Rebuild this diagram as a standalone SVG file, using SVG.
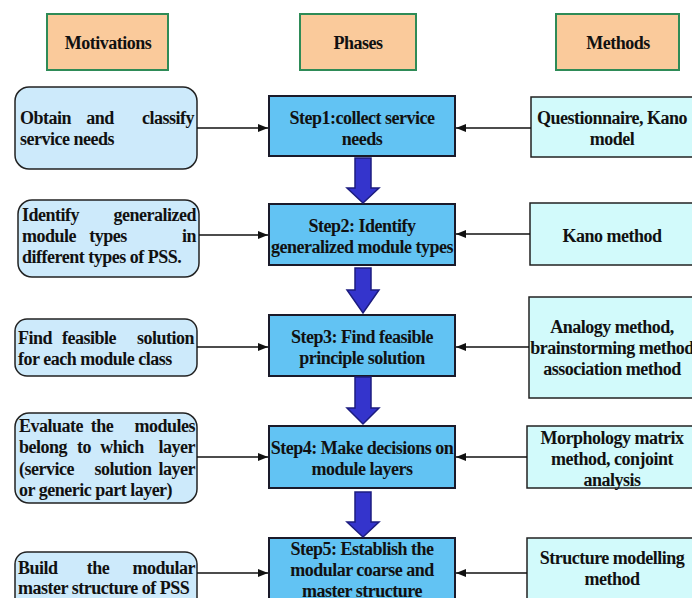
<svg xmlns="http://www.w3.org/2000/svg" width="692" height="598" viewBox="0 0 692 598">
<defs>
<style>
text{font-family:"Liberation Serif","Times New Roman",serif;font-weight:bold;font-size:18px;fill:#111;letter-spacing:-0.5px}
.c{text-anchor:middle}
.e{text-anchor:end}
.hdr{fill:#FACA9B;stroke:#2E8B57;stroke-width:2}
.mot{fill:#CDEAFB;stroke:#222;stroke-width:1.5}
.step{fill:#62C3F3;stroke:#1a1a2a;stroke-width:2}
.meth{fill:#D2FAFB;stroke:#222;stroke-width:1.5}
.ln{stroke:#111;stroke-width:1.5;fill:none}
.big{fill:#3434CC;stroke:#1C1C80;stroke-width:1.5}
</style>
<marker id="ah" markerWidth="10" markerHeight="8" refX="10" refY="4" orient="auto" markerUnits="userSpaceOnUse">
<path d="M0,0 L10,4 L0,8 Z" fill="#111"/>
</marker>
</defs>
<rect width="692" height="598" fill="#fff"/>

<g id="hdr-motivations"><rect class="hdr" x="47" y="14" width="121" height="56"/><text class="c" x="108" y="49">Motivations</text></g>
<g id="hdr-phases"><rect class="hdr" x="300" y="14" width="116" height="56"/><text class="c" x="358" y="49">Phases</text></g>
<g id="hdr-methods"><rect class="hdr" x="556" y="14" width="123" height="56"/><text class="c" x="618" y="49">Methods</text></g>

<g id="mot1"><rect class="mot" x="15" y="87" width="182" height="82" rx="14"/>
<text y="124"><tspan x="20">Obtain</tspan><tspan x="100" class="c">and</tspan><tspan x="194" class="e">classify</tspan></text>
<text x="20" y="145">service needs</text></g>
<g id="step1"><rect class="step" x="269" y="96" width="186" height="60"/>
<text class="c" x="362" y="124">Step1:collect service</text><text class="c" x="362" y="145">needs</text></g>
<g id="meth1"><rect class="meth" x="531" y="97" width="170" height="60"/>
<text class="c" x="612" y="124">Questionnaire, Kano</text><text class="c" x="612" y="145">model</text></g>

<g id="mot2"><rect class="mot" x="18" y="200" width="181" height="77" rx="14"/>
<text y="221"><tspan x="22">Identify</tspan><tspan x="196" class="e">generalized</tspan></text>
<text y="242"><tspan x="22">module</tspan><tspan x="108" class="c">types</tspan><tspan x="196" class="e">in</tspan></text>
<text x="22" y="263">different types of PSS.</text></g>
<g id="step2"><rect class="step" x="269" y="204" width="186" height="61"/>
<text class="c" x="362" y="232">Step2: Identify</text><text class="c" x="362" y="253">generalized module types</text></g>
<g id="meth2"><rect class="meth" x="530" y="203" width="170" height="62"/>
<text class="c" x="612" y="242">Kano method</text></g>

<g id="mot3"><rect class="mot" x="15" y="319" width="182" height="57" rx="12"/>
<text y="344"><tspan x="18">Find</tspan><tspan x="89" class="c">feasible</tspan><tspan x="194" class="e">solution</tspan></text>
<text x="18" y="365">for each module class</text></g>
<g id="step3"><rect class="step" x="269" y="315" width="186" height="61"/>
<text class="c" x="362" y="343">Step3: Find feasible</text><text class="c" x="362" y="364">principle solution</text></g>
<g id="meth3"><rect class="meth" x="529" y="297" width="170" height="101"/>
<text class="c" x="612" y="333">Analogy method,</text><text class="c" x="612" y="354">brainstorming method</text><text class="c" x="612" y="375">association method</text></g>

<g id="mot4"><rect class="mot" x="15" y="413" width="182" height="90" rx="14"/>
<text y="432"><tspan x="19">Evaluate</tspan><tspan x="102" class="c">the</tspan><tspan x="195" class="e">modules</tspan></text>
<text y="453"><tspan x="19">belong</tspan><tspan x="84" class="c">to</tspan><tspan x="122" class="c">which</tspan><tspan x="195" class="e">layer</tspan></text>
<text y="475"><tspan x="19">(service</tspan><tspan x="123" class="c">solution</tspan><tspan x="195" class="e">layer</tspan></text>
<text x="19" y="496">or generic part layer)</text></g>
<g id="step4"><rect class="step" x="269" y="426" width="186" height="62"/>
<text class="c" x="362" y="454">Step4: Make decisions on</text><text class="c" x="362" y="475">module layers</text></g>
<g id="meth4"><rect class="meth" x="527" y="426" width="170" height="62"/>
<text class="c" x="612" y="444">Morphology matrix</text><text class="c" x="612" y="465">method, conjoint</text><text class="c" x="612" y="486">analysis</text></g>

<g id="mot5"><rect class="mot" x="15" y="552" width="182" height="60" rx="12"/>
<text y="574"><tspan x="18">Build</tspan><tspan x="98" class="c">the</tspan><tspan x="195" class="e">modular</tspan></text>
<text x="18" y="594">master structure of PSS</text></g>
<g id="step5"><rect class="step" x="269" y="538" width="186" height="72"/>
<text class="c" x="362" y="555">Step5: Establish the</text><text class="c" x="362" y="576">modular coarse and</text><text class="c" x="362" y="597">master structure</text></g>
<g id="meth5"><rect class="meth" x="527" y="538" width="170" height="72"/>
<text class="c" x="612" y="564">Structure modelling</text><text class="c" x="612" y="585">method</text></g>

<g id="connectors">
<line class="ln" x1="197" y1="128" x2="268" y2="128" marker-end="url(#ah)"/>
<line class="ln" x1="531" y1="128" x2="456" y2="128" marker-end="url(#ah)"/>
<line class="ln" x1="199" y1="235" x2="268" y2="235" marker-end="url(#ah)"/>
<line class="ln" x1="530" y1="234" x2="456" y2="234" marker-end="url(#ah)"/>
<line class="ln" x1="197" y1="347" x2="268" y2="347" marker-end="url(#ah)"/>
<line class="ln" x1="529" y1="347" x2="456" y2="347" marker-end="url(#ah)"/>
<line class="ln" x1="197" y1="457" x2="268" y2="457" marker-end="url(#ah)"/>
<line class="ln" x1="527" y1="457" x2="456" y2="457" marker-end="url(#ah)"/>
<line class="ln" x1="197" y1="573" x2="268" y2="573" marker-end="url(#ah)"/>
<line class="ln" x1="527" y1="573" x2="456" y2="573" marker-end="url(#ah)"/>
<path class="big" d="M355,158 H371 V188 H379 L363,203 L347,188 H355 Z"/>
<path class="big" d="M355,268 H371 V290 H379 L363,313 L347,290 H355 Z"/>
<path class="big" d="M355,377 H371 V408 H379 L363,424 L347,408 H355 Z"/>
<path class="big" d="M355,492 H371 V522 H379 L363,537 L347,522 H355 Z"/>
</g>
</svg>
